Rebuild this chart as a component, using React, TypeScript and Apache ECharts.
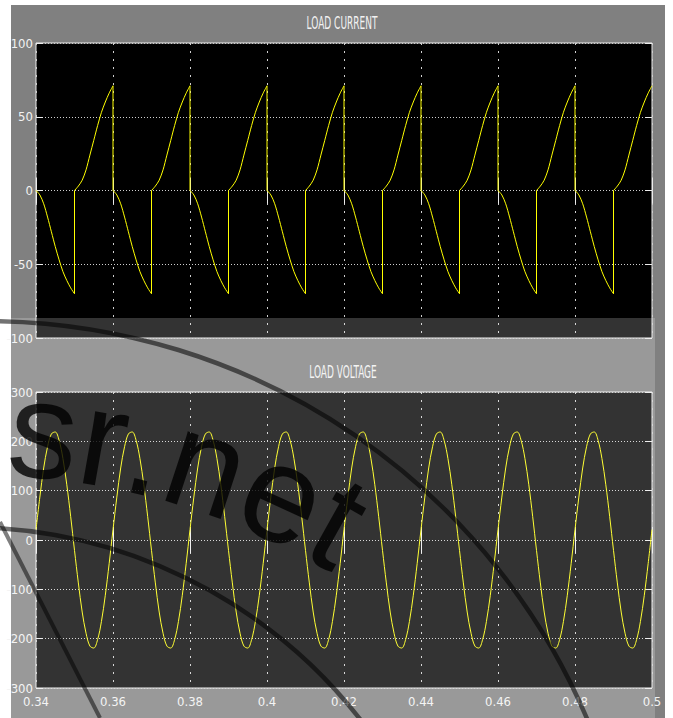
import React, { useEffect, useRef } from "react";
import * as echarts from "echarts";

// ---- axis ranges / ticks ----
const timeMin = 0.34;
const timeMax = 0.5;
const timeInterval = 0.02;
const currentMin = -100;
const currentMax = 100;
const currentInterval = 50;
const voltageMin = -300;
const voltageMax = 300;
const voltageInterval = 100;

const titles = ["LOAD CURRENT", "LOAD VOLTAGE"];

// ---- LOAD CURRENT: one row per half cycle (values every 1 ms from the row start) ----
const sampleStep = 0.001;
const currentStarts = [0.34, 0.35, 0.36, 0.37, 0.38, 0.39, 0.4, 0.41, 0.42, 0.43, 0.44, 0.45, 0.46, 0.47, 0.48, 0.49];
const currentHalfCycles = [
  [0, -3, -9, -18, -28, -38, -47, -55, -61, -66, -70],
  [0, 3, 7, 14, 24, 34, 44, 53, 60, 66, 71],
  [0, -3, -9, -18, -28, -38, -47, -55, -61, -66, -70],
  [0, 3, 7, 14, 24, 34, 44, 53, 60, 66, 71],
  [0, -3, -9, -18, -28, -38, -47, -55, -61, -66, -70],
  [0, 3, 7, 14, 24, 34, 44, 53, 60, 66, 71],
  [0, -3, -9, -18, -28, -38, -47, -55, -61, -66, -70],
  [0, 3, 7, 14, 24, 34, 44, 53, 60, 66, 71],
  [0, -3, -9, -18, -28, -38, -47, -55, -61, -66, -70],
  [0, 3, 7, 14, 24, 34, 44, 53, 60, 66, 71],
  [0, -3, -9, -18, -28, -38, -47, -55, -61, -66, -70],
  [0, 3, 7, 14, 24, 34, 44, 53, 60, 66, 71],
  [0, -3, -9, -18, -28, -38, -47, -55, -61, -66, -70],
  [0, 3, 7, 14, 24, 34, 44, 53, 60, 66, 71],
  [0, -3, -9, -18, -28, -38, -47, -55, -61, -66, -70],
  [0, 3, 7, 14, 24, 34, 44, 53, 60, 66, 71],
];

// ---- LOAD VOLTAGE: values every 1 ms from 0.34 s ----
const voltageStart = 0.34;
const voltageValues = [
  21, 87, 146, 189, 215, 219, 202, 165, 112, 48, -21, -87, -146, -189, -215, -219, -202, -165, -112, -48,
  21, 87, 146, 189, 215, 219, 202, 165, 112, 48, -21, -87, -146, -189, -215, -219, -202, -165, -112, -48,
  21, 87, 146, 189, 215, 219, 202, 165, 112, 48, -21, -87, -146, -189, -215, -219, -202, -165, -112, -48,
  21, 87, 146, 189, 215, 219, 202, 165, 112, 48, -21, -87, -146, -189, -215, -219, -202, -165, -112, -48,
  21, 87, 146, 189, 215, 219, 202, 165, 112, 48, -21, -87, -146, -189, -215, -219, -202, -165, -112, -48,
  21, 87, 146, 189, 215, 219, 202, 165, 112, 48, -21, -87, -146, -189, -215, -219, -202, -165, -112, -48,
  21, 87, 146, 189, 215, 219, 202, 165, 112, 48, -21, -87, -146, -189, -215, -219, -202, -165, -112, -48,
  21, 87, 146, 189, 215, 219, 202, 165, 112, 48, -21, -87, -146, -189, -215, -219, -202, -165, -112, -48,
  21,
];

// watermark text (scanned source)
const watermarkLetters = ["s", "r", ".", "n", "e", "t"];
const watermarkAdvances = [0.5, 0.333, 0.278, 0.556, 0.556, 0.278];

const YELLOW = "#ffff00";
const FRAME = "#ececec";
const GRIDDOT = "#cfcfcf";
const LABEL = "#f2f2f2";
const LABEL_FONT = "'DejaVu Sans Condensed', 'Liberation Sans Narrow', sans-serif";

function buildCurrent() {
  const smooth: any[] = [];
  const jumps: any[] = [];
  currentHalfCycles.forEach((row, k) => {
    const t0 = currentStarts[k];
    row.forEach((v, j) => smooth.push([+(t0 + j * sampleStep).toFixed(4), v]));
    smooth.push([+(t0 + (row.length - 1) * sampleStep).toFixed(4), null]);
    if (k > 0) {
      const prev = currentHalfCycles[k - 1];
      jumps.push([t0, prev[prev.length - 1]]);
      jumps.push([t0, row[0]]);
      jumps.push([t0, null]);
    }
  });
  return { smooth, jumps };
}

function buildVoltage() {
  return voltageValues.map((v, i) => [+(voltageStart + i * sampleStep).toFixed(4), v]);
}

function xAxisPair(gridIndex: number, showLabels: boolean) {
  const base = {
    type: "value",
    gridIndex,
    min: timeMin,
    max: timeMax,
    interval: timeInterval,
    axisLine: { show: false },
    axisTick: { show: true, inside: true, length: 13, lineStyle: { color: FRAME, width: 1 } },
  };
  return [
    {
      ...base,
      position: "bottom",
      axisLabel: {
        show: showLabels,
        margin: 7,
        color: LABEL,
        fontSize: 13,
        fontFamily: LABEL_FONT,
      },
      splitLine: { show: true, lineStyle: { color: GRIDDOT, width: 1, type: [2, 6] } },
    },
    {
      ...base,
      position: "top",
      axisLabel: { show: false },
      splitLine: { show: false },
    },
  ];
}

function yAxisPair(gridIndex: number, min: number, max: number, interval: number) {
  const base = {
    type: "value",
    gridIndex,
    min,
    max,
    interval,
    axisLine: { show: false },
    axisTick: { show: true, inside: true, length: 7, lineStyle: { color: FRAME, width: 1 } },
  };
  return [
    {
      ...base,
      position: "left",
      axisLabel: { show: true, margin: 3, color: LABEL, fontSize: 13, fontFamily: LABEL_FONT },
      splitLine: { show: true, lineStyle: { color: GRIDDOT, width: 1, type: [1, 2] } },
    },
    {
      ...base,
      position: "right",
      axisLabel: { show: false },
      splitLine: { show: false },
    },
  ];
}

function watermark() {
  const F = 138;
  const cx = -26;
  const cy = 1175;
  const R = 700;
  const phi0 = 0.044;
  const els: any[] = [];
  let acc = 0;
  watermarkLetters.forEach((ch, i) => {
    const w = watermarkAdvances[i] * F;
    const phi = phi0 + (acc + w / 2) / R;
    const rr = R + 0.35 * F;
    els.push({
      type: "text",
      z: 120,
      silent: true,
      x: cx + rr * Math.sin(phi),
      y: cy - rr * Math.cos(phi),
      rotation: -phi,
      style: {
        text: ch,
        font: `${F}px 'Liberation Sans', Arial, sans-serif`,
        fill: "rgba(0,0,0,0.8)",
        textAlign: "center",
        textVerticalAlign: "middle",
      },
    });
    acc += w;
  });
  return els;
}

export default function App() {
  const ref = useRef<HTMLDivElement>(null);

  useEffect(() => {
    const el = ref.current!;
    const chart = echarts.init(el, undefined, { renderer: "svg" });
    const cur = buildCurrent();
    const volt = buildVoltage();

    const option: any = {
      animation: false,
      backgroundColor: "transparent",
      grid: [
        { left: 36, top: 43, width: 616, height: 295, show: true, backgroundColor: "#000", borderColor: FRAME, borderWidth: 1 },
        { left: 36, top: 392, width: 616, height: 296, show: true, backgroundColor: "#000", borderColor: FRAME, borderWidth: 1 },
      ],
      xAxis: [...xAxisPair(0, false), ...xAxisPair(1, true)],
      yAxis: [
        ...yAxisPair(0, currentMin, currentMax, currentInterval),
        ...yAxisPair(1, voltageMin, voltageMax, voltageInterval),
      ],
      series: [
        {
          name: "Load current",
          type: "line",
          xAxisIndex: 0,
          yAxisIndex: 0,
          data: cur.smooth,
          showSymbol: false,
          symbol: "none",
          smooth: 0.3,
          connectNulls: false,
          lineStyle: { color: YELLOW, width: 1 },
          z: 3,
        },
        {
          name: "Load current jumps",
          type: "line",
          xAxisIndex: 0,
          yAxisIndex: 0,
          data: cur.jumps,
          showSymbol: false,
          symbol: "none",
          connectNulls: false,
          lineStyle: { color: YELLOW, width: 1 },
          z: 3,
        },
        {
          name: "Load voltage",
          type: "line",
          xAxisIndex: 2,
          yAxisIndex: 2,
          data: volt,
          showSymbol: false,
          symbol: "none",
          smooth: 0.35,
          lineStyle: { color: YELLOW, width: 1 },
          z: 3,
        },
      ],
      graphic: {
        elements: [
          {
            type: "text",
            z: 10,
            x: 342,
            y: 23,
            scaleY: 1.75,
            style: {
              text: titles[0],
              fill: LABEL,
              font: `10px ${LABEL_FONT}`,
              textAlign: "center",
              textVerticalAlign: "middle",
            },
          },
          {
            type: "text",
            z: 10,
            x: 343,
            y: 372,
            scaleY: 1.75,
            style: {
              text: titles[1],
              fill: LABEL,
              font: `10px ${LABEL_FONT}`,
              textAlign: "center",
              textVerticalAlign: "middle",
            },
          },
          {
            type: "rect",
            z: 100,
            silent: true,
            shape: { x: 0, y: 318, width: 655, height: 400 },
            style: { fill: "rgba(255,255,255,0.2)" },
          },
          {
            type: "arc",
            z: 110,
            silent: true,
            shape: { cx: -14, cy: 974, r: 653, startAngle: -1.56, endAngle: -0.38, clockwise: true },
            style: { stroke: "rgba(0,0,0,0.55)", lineWidth: 4.5, fill: "transparent" },
          },
          {
            type: "arc",
            z: 110,
            silent: true,
            shape: { cx: -34, cy: 1027, r: 500, startAngle: -1.52, endAngle: -0.6, clockwise: true },
            style: { stroke: "rgba(0,0,0,0.55)", lineWidth: 4.5, fill: "transparent" },
          },
          {
            type: "line",
            z: 110,
            silent: true,
            shape: { x1: 0, y1: 522, x2: 100, y2: 718 },
            style: { stroke: "rgba(0,0,0,0.5)", lineWidth: 4 },
          },
          ...watermark(),
        ],
      },
    };

    chart.setOption(option);
    return () => chart.dispose();
  }, []);

  return (
    <div style={{ position: "absolute", left: 0, top: 0, width: 673, height: 718, background: "#fff", overflow: "hidden" }}>
      <div style={{ position: "absolute", left: 11, top: 5, width: 654, height: 713, background: "#808080" }} />
      <div ref={ref} style={{ position: "absolute", left: 0, top: 0, width: 673, height: 718 }} />
    </div>
  );
}
